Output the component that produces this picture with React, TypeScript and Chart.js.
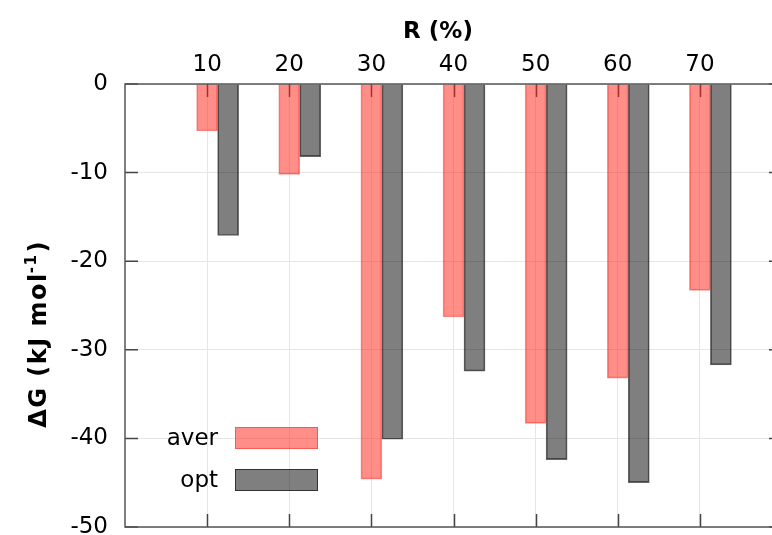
import { useEffect, useRef } from 'react';
import { Chart, registerables } from 'chart.js';

Chart.register(...registerables);

// ---- data ----
const R_VALUES = [10, 20, 30, 40, 50, 60, 70];
const AVER = [-5.3, -10.2, -44.6, -26.3, -38.3, -33.2, -23.3];
const OPT = [-17.1, -8.2, -40.1, -32.4, -42.4, -45.0, -31.7];
const Y_TICKS = [0, -10, -20, -30, -40, -50];
const SERIES_LABELS = ['aver', 'opt'];
const X_TITLE = 'R (%)';

// ---- style ----
const FONT = '"DejaVu Sans", sans-serif';
const FS = 23;
const AVER_FILL = 'rgba(255, 30, 20, 0.5)';
const AVER_BORDER = 'rgba(240, 40, 30, 0.5)';
const OPT_FILL = 'rgba(0, 0, 0, 0.5)';
const OPT_BORDER = 'rgba(0, 0, 0, 0.6)';
const GRID = '#e6e6e6';
const AXIS = '#555';
const BAR_PX = 21;
const X_MIN = 0;
const X_MAX = 80;
const BAR_SHIFT = 1.28; // half bar width in x units so 'aver' sits on the tick

const framePlugin = {
  id: 'frame',
  beforeDatasetsDraw(chart: any) {
    const { ctx, chartArea, scales } = chart;
    const { left, right, top, bottom } = chartArea;
    const L = 13;
    ctx.save();
    ctx.strokeStyle = '#444';
    ctx.lineWidth = 1.5;
    ctx.beginPath();
    for (const v of R_VALUES) {
      const px = Math.round(scales.x.getPixelForValue(v)) + 0.5;
      ctx.moveTo(px, top);
      ctx.lineTo(px, top + L);
      ctx.moveTo(px, bottom);
      ctx.lineTo(px, bottom - L);
    }
    for (const v of Y_TICKS) {
      const py = scales.y.getPixelForValue(v);
      ctx.moveTo(left, py);
      ctx.lineTo(left + L, py);
      ctx.moveTo(right, py);
      ctx.lineTo(right - L, py);
    }
    ctx.stroke();
    ctx.restore();
  },
  afterDatasetsDraw(chart: any) {
    const { ctx, chartArea } = chart;
    const { left, right, top, bottom } = chartArea;
    ctx.save();
    // frame
    ctx.strokeStyle = AXIS;
    ctx.lineWidth = 1.5;
    ctx.strokeRect(left, top, right - left, bottom - top);

    // legend (text left of swatch)
    ctx.font = `${FS}px ${FONT}`;
    ctx.textAlign = 'right';
    ctx.textBaseline = 'alphabetic';
    chart.data.datasets.forEach((ds: any, i: number) => {
      const cy = top + 354 + i * 42;
      ctx.fillStyle = '#000';
      ctx.fillText(ds.label, left + 93, cy + 7);
      ctx.fillStyle = ds.backgroundColor;
      ctx.fillRect(left + 110, cy - 11, 83, 22);
      ctx.strokeStyle = ds.borderColor;
      ctx.lineWidth = 1;
      ctx.strokeRect(left + 110.5, cy - 10.5, 82, 21);
    });

    // x title
    ctx.fillStyle = '#000';
    ctx.font = `bold ${FS}px ${FONT}`;
    ctx.textAlign = 'center';
    ctx.textBaseline = 'alphabetic';
    ctx.fillText(X_TITLE, 438, 38);

    // y title with superscript
    ctx.translate(46, 334);
    ctx.rotate(-Math.PI / 2);
    (ctx as any).letterSpacing = '1.5px';
    const main = 'ΔG (kJ mol';
    const sup = '-1';
    const tail = ')';
    const TS = 24;
    ctx.font = `bold ${TS}px ${FONT}`;
    const wMain = ctx.measureText(main).width;
    const wTail = ctx.measureText(tail).width;
    ctx.font = `bold 15px ${FONT}`;
    const wSup = ctx.measureText(sup).width;
    const total = wMain + wSup + wTail;
    let x0 = -total / 2;
    ctx.textAlign = 'left';
    ctx.font = `bold ${TS}px ${FONT}`;
    ctx.fillText(main, x0, 0);
    x0 += wMain;
    ctx.font = `bold 15px ${FONT}`;
    ctx.fillText(sup, x0 - 1, -10);
    x0 += wSup;
    ctx.font = `bold ${TS}px ${FONT}`;
    ctx.fillText(tail, x0, 0);
    ctx.restore();
  },
};

export default function App() {
  const ref = useRef<HTMLCanvasElement>(null);

  useEffect(() => {
    if (!ref.current) return;
    const chart = new Chart(ref.current, {
      type: 'bar',
      data: {
        datasets: [
          {
            label: SERIES_LABELS[0],
            data: R_VALUES.map((r, i) => ({ x: r, y: AVER[i] })),
            backgroundColor: AVER_FILL,
            borderColor: AVER_BORDER,
            borderWidth: 1,
            xAxisID: 'xb',
            yAxisID: 'y',
          },
          {
            label: SERIES_LABELS[1],
            data: R_VALUES.map((r, i) => ({ x: r, y: OPT[i] })),
            backgroundColor: OPT_FILL,
            borderColor: OPT_BORDER,
            borderWidth: 1,
            xAxisID: 'xb',
            yAxisID: 'y',
          },
        ],
      },
      options: {
        animation: false,
        responsive: false,
        devicePixelRatio: 1,
        layout: { padding: { left: 0, top: 0, right: 18, bottom: 8 } },
        datasets: { bar: { barThickness: BAR_PX, grouped: true } },
        plugins: { legend: { display: false }, tooltip: { enabled: false } },
        scales: {
          x: {
            type: 'linear',
            position: 'top',
            offset: false,
            min: X_MIN,
            max: X_MAX,
            afterBuildTicks: (s: any) => {
              s.ticks = R_VALUES.map((v) => ({ value: v }));
            },
            afterFit: (s: any) => {
              s.height = 84;
              s.paddingLeft = 0;
              s.paddingRight = 0;
            },
            ticks: {
              font: { family: FONT, size: FS },
              color: '#000',
              padding: 5,
              maxRotation: 0,
              autoSkip: false,
            },
            grid: { color: GRID, drawTicks: false, lineWidth: 1, offset: false },
            border: { display: false },
          },
          xb: {
            type: 'linear',
            display: false,
            offset: false,
            min: X_MIN - BAR_SHIFT,
            max: X_MAX - BAR_SHIFT,
            grid: { offset: false },
          },
          y: {
            type: 'linear',
            position: 'left',
            min: Math.min(...Y_TICKS),
            max: Math.max(...Y_TICKS),
            afterBuildTicks: (s: any) => {
              s.ticks = Y_TICKS.map((v) => ({ value: v }));
            },
            afterFit: (s: any) => {
              s.width = 125;
              s.paddingTop = 0;
              s.paddingBottom = 0;
            },
            ticks: {
              font: { family: FONT, size: FS },
              color: '#000',
              padding: 17,
            },
            grid: { color: GRID, drawTicks: false, lineWidth: 1 },
            border: { display: false },
          },
        },
      },
      plugins: [framePlugin],
    } as any);
    return () => chart.destroy();
  }, []);

  return (
    <div
      style={{
        position: 'absolute',
        left: 0,
        top: 0,
        width: 772,
        height: 535,
        overflow: 'hidden',
        background: '#fff',
      }}
    >
      <canvas ref={ref} width={800} height={535} style={{ display: 'block' }} />
    </div>
  );
}
